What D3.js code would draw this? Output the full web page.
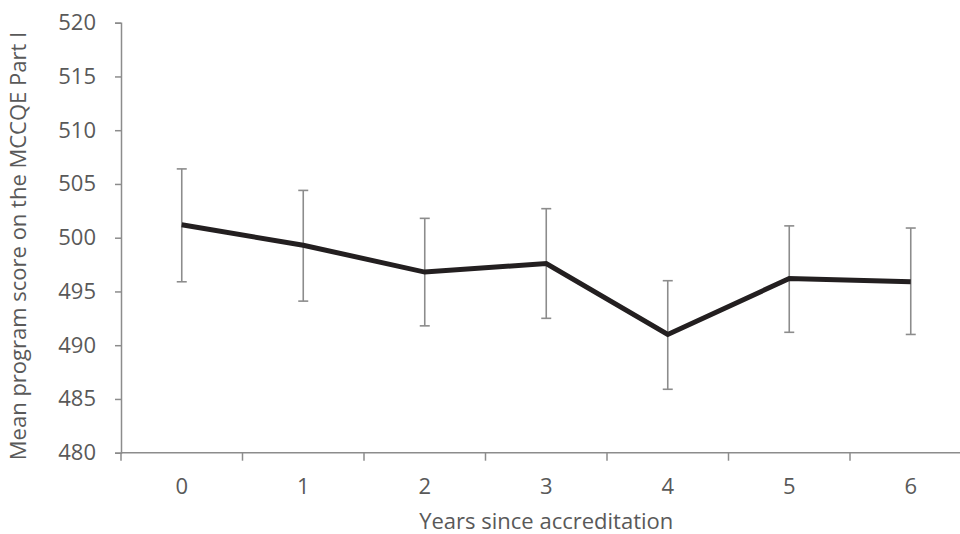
<!DOCTYPE html>
<html>
<head>
<meta charset="utf-8">
<script src="https://cdn.jsdelivr.net/npm/d3@7"></script>
<style>
  html, body { margin: 0; padding: 0; background: #fff; }
  svg { display: block; }
  .tick text { font-family: "Open Sans", sans-serif; fill: #595959; }
</style>
</head>
<body>
<svg id="chart" width="960" height="534"></svg>
<script>
// Years since accreditation and mean MCCQE Part I program scores with error bounds
const years = ["0", "1", "2", "3", "4", "5", "6"];
const meanScore = [501.2, 499.3, 496.8, 497.6, 491.0, 496.2, 495.9];
const lowerBound = [495.9, 494.1, 491.8, 492.5, 485.9, 491.2, 491.0];
const upperBound = [506.4, 504.4, 501.8, 502.7, 496.0, 501.1, 500.9];
const yTicks = [480, 485, 490, 495, 500, 505, 510, 515, 520];

const svg = d3.select("#chart");
const plotLeft = 121, plotRight = 971.5, plotTop = 22.7, plotBottom = 452.7;
const axisColor = "#8c8c8c";
const textColor = "#595959";
const fontSize = 22;

const x = d3.scaleBand().domain(years).range([plotLeft, plotRight]).padding(0);
const y = d3.scaleLinear().domain([480, 520]).range([plotBottom, plotTop]);

// Y axis
const yAxis = svg.append("g")
  .attr("transform", `translate(${plotLeft},0)`)
  .call(d3.axisLeft(y).tickValues(yTicks).tickSize(6).tickPadding(19).tickFormat(d3.format("d")));
yAxis.select(".domain").attr("stroke", axisColor).attr("stroke-width", 1.5);
yAxis.selectAll(".tick line").attr("stroke", axisColor).attr("stroke-width", 1.5);
yAxis.selectAll(".tick text").attr("font-size", fontSize).attr("fill", textColor);

// X axis: ticks sit on the category boundaries
const xAxisG = svg.append("g").attr("transform", `translate(0,${plotBottom})`);
xAxisG.append("line")
  .attr("x1", plotLeft).attr("x2", plotRight)
  .attr("stroke", axisColor).attr("stroke-width", 1.5);
xAxisG.selectAll("line.bound")
  .data(years)
  .join("line")
  .attr("class", "bound")
  .attr("x1", d => x(d)).attr("x2", d => x(d))
  .attr("y1", 0).attr("y2", 8)
  .attr("stroke", axisColor).attr("stroke-width", 1.5);
xAxisG.selectAll("text.cat")
  .data(years)
  .join("text")
  .attr("class", "cat")
  .attr("x", d => x(d) + x.bandwidth() / 2)
  .attr("y", 41)
  .attr("text-anchor", "middle")
  .attr("font-family", "Open Sans, sans-serif")
  .attr("font-size", fontSize)
  .attr("fill", textColor)
  .text(d => d);

// Axis titles
svg.append("text")
  .attr("x", (plotLeft + plotRight) / 2)
  .attr("y", 529)
  .attr("text-anchor", "middle")
  .attr("font-family", "Open Sans, sans-serif")
  .attr("font-size", fontSize)
  .attr("fill", textColor)
  .text("Years since accreditation");

svg.append("text")
  .attr("transform", `translate(26,246) rotate(-90)`)
  .attr("text-anchor", "middle")
  .attr("font-family", "Open Sans, sans-serif")
  .attr("font-size", fontSize)
  .attr("fill", textColor)
  .text("Mean program score on the MCCQE Part I");

const cx = d => x(d) + x.bandwidth() / 2;
const rows = years.map((d, i) => ({ year: d, mean: meanScore[i], lo: lowerBound[i], hi: upperBound[i] }));

// Error bars
const eb = svg.append("g").attr("stroke", axisColor).attr("stroke-width", 1.6);
eb.selectAll("line.v").data(rows).join("line").attr("class", "v")
  .attr("x1", d => cx(d.year)).attr("x2", d => cx(d.year))
  .attr("y1", d => y(d.lo)).attr("y2", d => y(d.hi));
eb.selectAll("line.t").data(rows).join("line").attr("class", "t")
  .attr("x1", d => cx(d.year) - 5).attr("x2", d => cx(d.year) + 5)
  .attr("y1", d => y(d.hi)).attr("y2", d => y(d.hi));
eb.selectAll("line.b").data(rows).join("line").attr("class", "b")
  .attr("x1", d => cx(d.year) - 5).attr("x2", d => cx(d.year) + 5)
  .attr("y1", d => y(d.lo)).attr("y2", d => y(d.lo));

// Mean line
svg.append("path")
  .datum(rows)
  .attr("fill", "none")
  .attr("stroke", "#231f20")
  .attr("stroke-width", 5)
  .attr("stroke-linejoin", "miter")
  .attr("d", d3.line().x(d => cx(d.year)).y(d => y(d.mean)));
</script>
</body>
</html>
